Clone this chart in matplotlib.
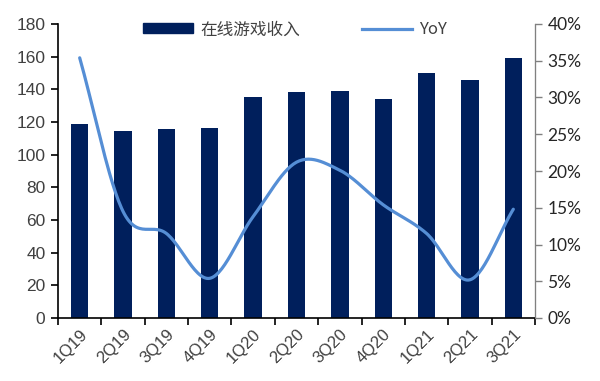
import matplotlib.pyplot as plt
import numpy as np
from matplotlib.patches import Patch
from matplotlib.lines import Line2D

quarters = ['1Q19', '2Q19', '3Q19', '4Q19', '1Q20', '2Q20', '3Q20', '4Q20', '1Q21', '2Q21', '3Q21']
revenue = [118.6, 114.3, 115.6, 116.3, 135.3, 138.4, 138.8, 134.1, 150.0, 145.5, 159.2]
yoy = [35.4, 14.5, 11.5, 5.4, 13.8, 21.2, 20.1, 15.4, 11.5, 5.2, 14.8]

bar_color = '#001F5C'
line_color = '#558ED5'


def smooth(xs, ys, n=30):
    # Excel-like smoothed line (Catmull-Rom through the data points)
    xs = np.asarray(xs, float)
    ys = np.asarray(ys, float)
    px = np.concatenate([[2 * xs[0] - xs[1]], xs, [2 * xs[-1] - xs[-2]]])
    py = np.concatenate([[2 * ys[0] - ys[1]], ys, [2 * ys[-1] - ys[-2]]])
    out_x, out_y = [], []
    t = np.linspace(0, 1, n)
    for i in range(1, len(px) - 2):
        p0x, p1x, p2x, p3x = px[i - 1:i + 3]
        p0y, p1y, p2y, p3y = py[i - 1:i + 3]
        c1x, c1y = p1x + (p2x - p0x) / 6, p1y + (p2y - p0y) / 6
        c2x, c2y = p2x - (p3x - p1x) / 6, p2y - (p3y - p1y) / 6
        bx = (1 - t) ** 3 * p1x + 3 * (1 - t) ** 2 * t * c1x + 3 * (1 - t) * t ** 2 * c2x + t ** 3 * p2x
        by = (1 - t) ** 3 * p1y + 3 * (1 - t) ** 2 * t * c1y + 3 * (1 - t) * t ** 2 * c2y + t ** 3 * p2y
        out_x.extend(bx)
        out_y.extend(by)
    return np.array(out_x), np.array(out_y)


fig = plt.figure(figsize=(6, 3.81), dpi=100)
ax = fig.add_axes([58 / 600, 63 / 381, 477 / 600, 294 / 381])
ax2 = ax.twinx()

x = np.arange(len(quarters))
ax.bar(x, revenue, width=0.4, color=bar_color, zorder=2)
sx, sy = smooth(x, yoy)
ax2.plot(sx, sy, color=line_color, lw=2.3, solid_capstyle='round')

ax.set_xlim(-0.5, len(quarters) - 0.5)
ax.set_ylim(0, 180)
ax.set_yticks(range(0, 181, 20))
ax2.set_ylim(0, 40)
ax2.set_yticks(range(0, 41, 5))
ax2.set_yticklabels([f'{v}%' for v in range(0, 41, 5)])

ax.set_xticks(x)
ax.set_xticklabels(quarters, rotation=45, ha='right', rotation_mode='anchor',
                   fontsize=12, color='#404040', family='Liberation Sans')
ax.tick_params(axis='x', length=0, pad=6)
ax.set_xticks(np.arange(-0.5, len(quarters), 1), minor=True)
ax.tick_params(axis='x', which='minor', length=5, width=1.2, direction='out')

ax.tick_params(axis='y', length=5, width=1.2, direction='out', labelsize=12.5,
               labelcolor='#404040', pad=4)
for lab in ax.get_yticklabels():
    lab.set_family('Liberation Sans')
ax2.tick_params(axis='y', length=5, width=1, color='#808080', direction='out',
                labelsize=12.5, labelcolor='#262626', pad=4)
for lab in ax2.get_yticklabels():
    lab.set_family('Lato')

for a in (ax, ax2):
    a.spines['top'].set_visible(False)
ax.spines['left'].set_linewidth(1.2)
ax.spines['bottom'].set_linewidth(1.2)
ax2.spines['left'].set_visible(False)
ax2.spines['bottom'].set_visible(False)
ax2.spines['right'].set_color('#808080')

handles = [Patch(color=bar_color), Line2D([], [], color=line_color, lw=2.3)]
leg = ax.legend(handles, ['在线游戏收入', 'YoY'], loc='upper center', bbox_to_anchor=(0.497, 1.06),
                ncol=2, frameon=False, handlelength=3.0, handleheight=0.55, columnspacing=3.7,
                handletextpad=0.45, prop={'family': ['Noto Sans CJK SC', 'DejaVu Sans'], 'size': 12})
for t in leg.get_texts():
    t.set_color('#404040')

fig.savefig('out.png', dpi=100)
